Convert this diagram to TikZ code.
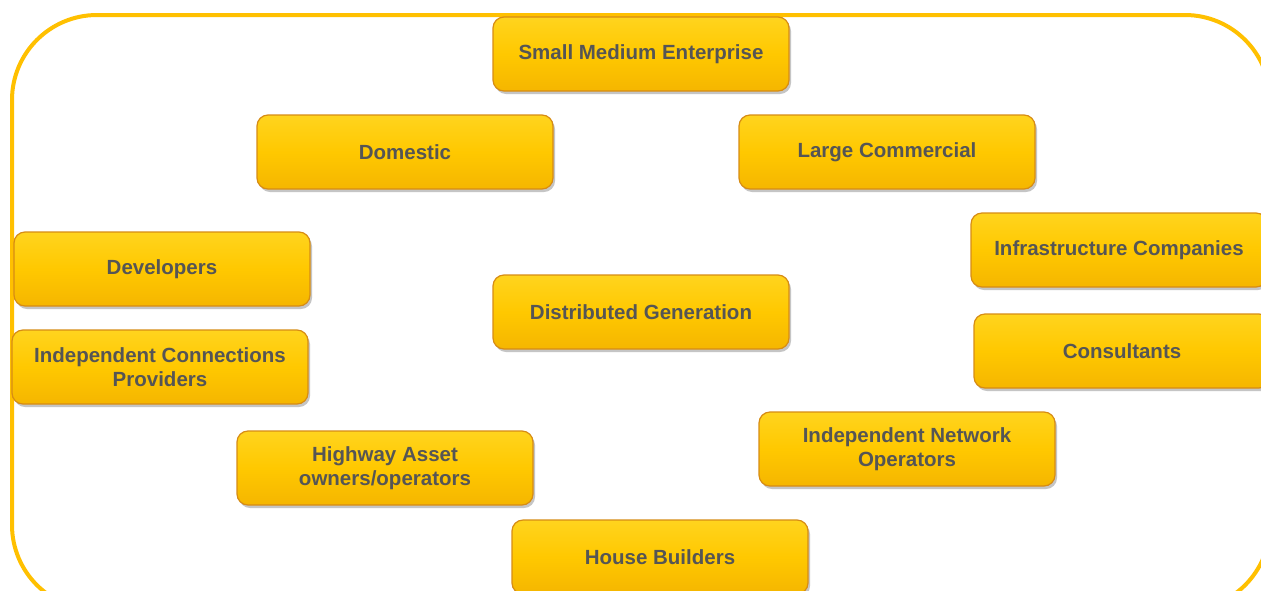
\documentclass[tikz,border=0pt]{standalone}
\usepackage{fontspec}
\setmainfont{Liberation Sans}
\usetikzlibrary{shadows}
\definecolor{boxfill}{RGB}{255,200,0}
\definecolor{boxtop}{RGB}{255,212,30}
\definecolor{boxbot}{RGB}{245,182,0}
\definecolor{boxedge}{RGB}{215,140,20}
\definecolor{frame}{RGB}{255,192,0}
\definecolor{txt}{RGB}{85,85,85}
\tikzset{
  item/.style={rectangle, rounded corners=11pt, minimum width=296pt, minimum height=74pt,
    draw=boxedge, line width=1.2pt, top color=boxtop, bottom color=boxbot,
    middle color=boxfill, shading angle=0,
    drop shadow={shadow xshift=2pt, shadow yshift=-3pt, fill=black!45, opacity=0.5},
    text=txt, font=\fontsize{20.5}{24}\selectfont\bfseries, align=center, inner sep=2pt},
  frameline/.style={draw=frame, line width=4pt, rounded corners=85pt}
}
\begin{document}
\begin{tikzpicture}[x=1pt,y=-1pt]
\useasboundingbox[fill=white] (0,0) rectangle (1261,590);
\begin{scope}
\clip (0,0) rectangle (1261,590);
\draw[frameline] (12,15) rectangle (1270,610);
\node[item] (sme) at (641,54) {Small Medium Enterprise};
\node[item] (dom) at (405,152) {Domestic};
\node[item] (lc) at (887,152) {Large Commercial};
\node[item] (dev) at (162,269) {Developers};
\node[item] (icp) at (160,367) {Independent Connections\\Providers};
\node[item] (dg) at (641,312) {Distributed Generation};
\node[item] (inf) at (1119,250) {Infrastructure Companies};
\node[item] (con) at (1122,351) {Consultants};
\node[item] (ino) at (907,449) {Independent Network\\Operators};
\node[item] (hw) at (385,468) {Highway Asset\\owners/operators};
\node[item] (hb) at (660,557) {House Builders};
\end{scope}
\end{tikzpicture}
\end{document}
